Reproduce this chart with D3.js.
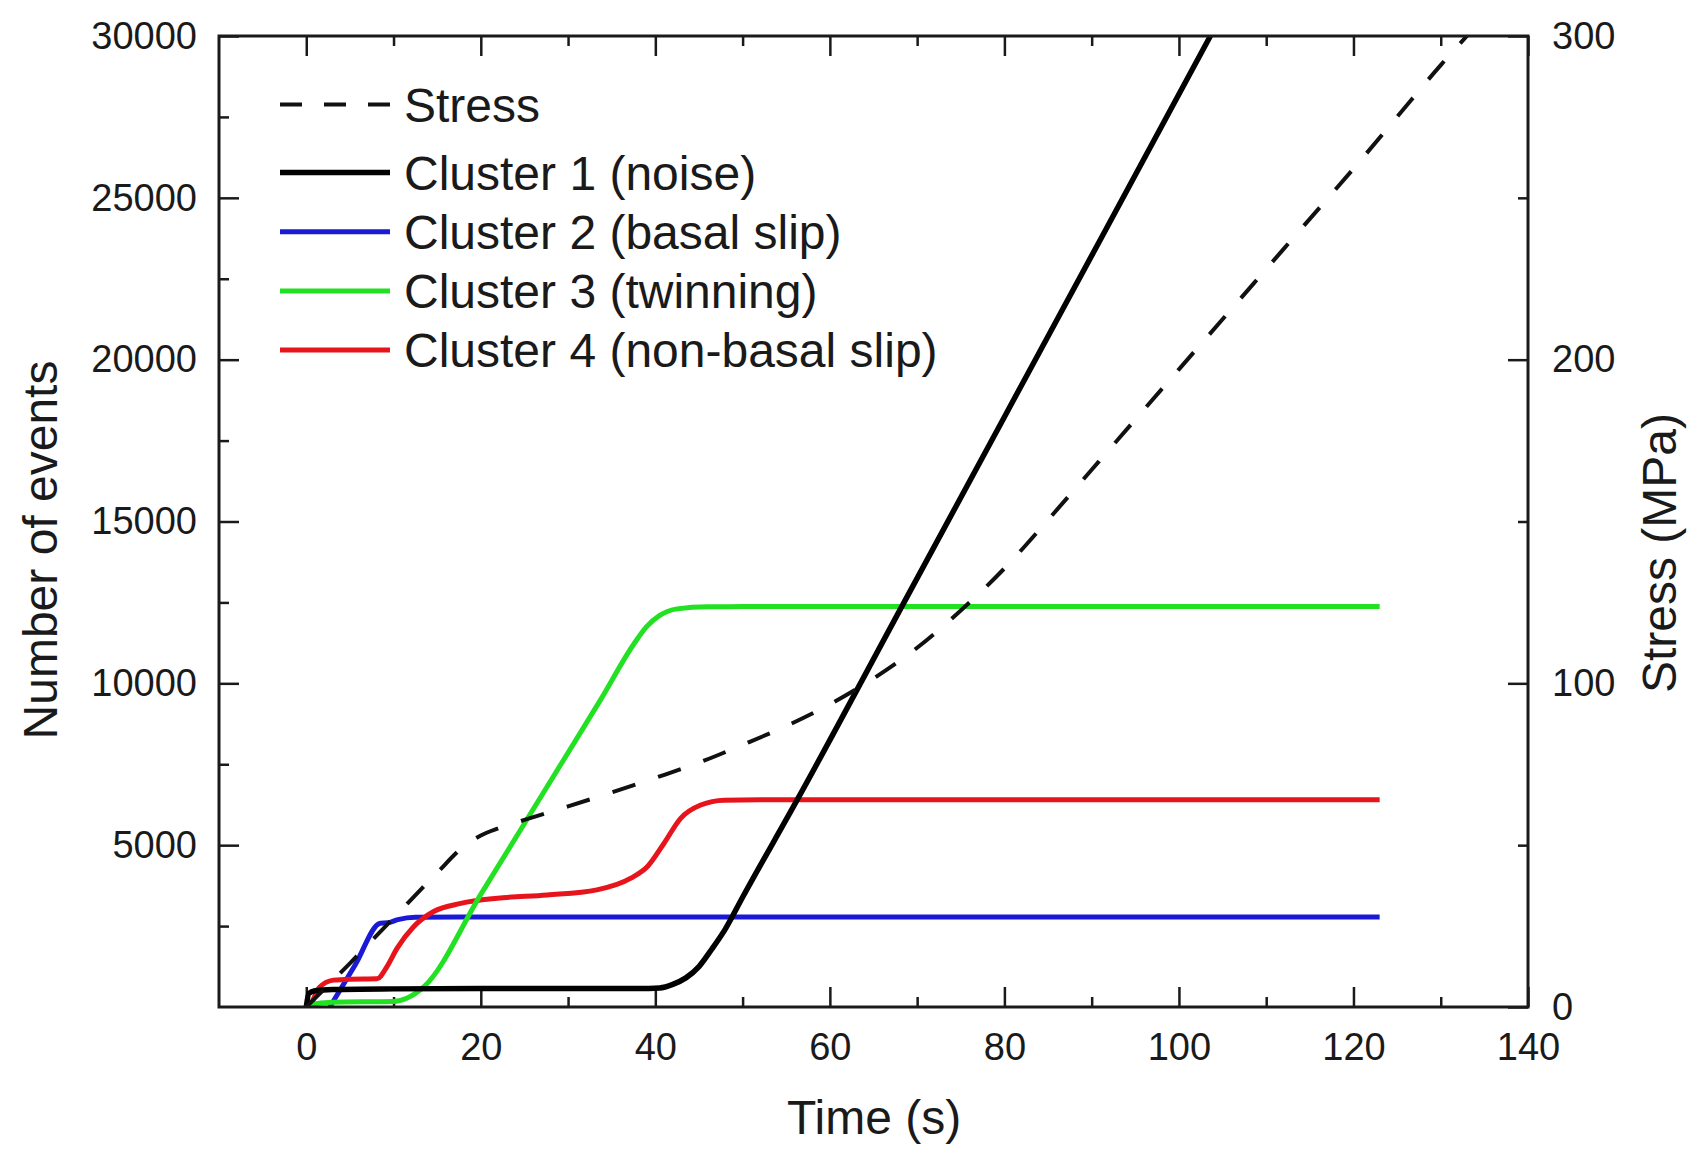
<!DOCTYPE html>
<html>
<head>
<meta charset="utf-8">
<script src="https://cdn.jsdelivr.net/npm/d3@7"></script>
<style>
  body { margin: 0; background: #fff; }
  text { font-family: "Liberation Sans", Arial, Helvetica, sans-serif; fill: #1a1a1a; }
</style>
</head>
<body>
<svg id="chart"></svg>
<script>
/* global d3 */

// values: [time (s), value]
const stress = [[0, 0], [5, 13.5], [10, 27.5], [15, 41.5], [18, 49.5], [20, 53], [22, 55.2],
  [25, 57.8], [30, 62], [35, 66.3], [40, 70.8], [45, 75.5], [50, 81], [55, 86.8], [60, 93.5],
  [65, 101.5], [70, 111], [75, 122.5], [80, 135.5], [85, 150.5], [90, 166], [95, 181.5],
  [100, 197], [105, 212.5], [110, 228], [115, 243.5], [120, 259], [125, 275], [130, 291],
  [133, 300]];

const cluster1 = [[0, 0], [0.3, 420], [1, 500], [3, 540], [10, 560], [20, 570], [30, 570], [38, 570],
  [40.5, 590], [42, 700], [43.5, 900], [45, 1250], [46.5, 1800], [48, 2400], [50, 3390],
  [56.3, 6420], [68.3, 12400], [80, 18230], [91.1, 23760], [103.6, 30000]];

const cluster2 = [[2.7, 0], [5.6, 1300], [8.5, 2590], [9.3, 2600], [10.5, 2700], [12.5, 2770],
  [20, 2780], [60, 2780], [123, 2780]];

const cluster3 = [[0, 0], [0.5, 80], [3, 150], [10, 170], [11.5, 270], [13.5, 630], [20, 3480],
  [29.5, 7640], [33.7, 9480], [37.5, 11200], [39, 11750], [40.5, 12100], [42.5, 12300],
  [46, 12365], [50, 12370], [123, 12370]];

const cluster4 = [[0, 0], [0.5, 100], [1.5, 600], [3.1, 830], [5, 860], [8.1, 870], [9.25, 1250],
  [10.4, 1810], [12.3, 2480], [14.6, 2950], [17.7, 3200], [21.9, 3360], [27.6, 3460], [33.3, 3620],
  [37.2, 3980], [39.1, 4340], [41, 5060], [42.9, 5830], [45.2, 6240], [47.9, 6390], [52, 6400],
  [123, 6400]];

const legendLabels = ["Stress", "Cluster 1 (noise)", "Cluster 2 (basal slip)",
  "Cluster 3 (twinning)", "Cluster 4 (non-basal slip)"];

const xTicks = [0, 20, 40, 60, 80, 100, 120, 140];
const xMinor = [10, 30, 50, 70, 90, 110, 130];
const yTicks = [5000, 10000, 15000, 20000, 25000, 30000];
const yMinor = [2500, 7500, 12500, 17500, 22500, 27500];
const y2Ticks = [0, 100, 200, 300];
const y2Minor = [50, 150, 250];

// dimensions
const WIDTH = 1690;
const HEIGHT = 1151;
const LEFT = 219;
const RIGHT = 1528;
const TOP = 36;
const BOTTOM = 1007;
const MAJOR = 20;
const MINOR = 10;

const x = d3.scaleLinear().domain([-10, 140]).range([LEFT, RIGHT]);
const y = d3.scaleLinear().domain([0, 30000]).range([BOTTOM, TOP]);
const y2 = d3.scaleLinear().domain([0, 300]).range([BOTTOM, TOP]);
const fmt = d3.format("d");

const $svg = d3.select("#chart").attr("width", WIDTH).attr("height", HEIGHT);

$svg.append("defs").append("clipPath").attr("id", "plot")
  .append("rect")
  .attr("x", LEFT).attr("y", TOP)
  .attr("width", RIGHT - LEFT).attr("height", BOTTOM - TOP);

// axes, ticks point inward
function drawAxis(axis, transform, labels) {
  const $g = $svg.append("g").attr("transform", transform).call(axis.tickFormat(fmt));
  $g.select(".domain").remove();
  $g.selectAll(".tick line").attr("stroke", "#1a1a1a").attr("stroke-width", 2.5);
  $g.selectAll(".tick text").style("font-size", "38px").attr("fill", "#1a1a1a");
  if (!labels) $g.selectAll(".tick text").remove();
  return $g;
}

drawAxis(d3.axisBottom(x).tickValues(xTicks).tickSize(-MAJOR).tickPadding(26).tickSizeOuter(0),
  `translate(0,${BOTTOM})`, true);
drawAxis(d3.axisBottom(x).tickValues(xMinor).tickSize(-MINOR).tickSizeOuter(0),
  `translate(0,${BOTTOM})`, false);
drawAxis(d3.axisTop(x).tickValues(xTicks).tickSize(-MAJOR).tickSizeOuter(0),
  `translate(0,${TOP})`, false);
drawAxis(d3.axisTop(x).tickValues(xMinor).tickSize(-MINOR).tickSizeOuter(0),
  `translate(0,${TOP})`, false);

drawAxis(d3.axisLeft(y).tickValues(yTicks).tickSize(-MAJOR).tickPadding(22).tickSizeOuter(0),
  `translate(${LEFT},0)`, true);
drawAxis(d3.axisLeft(y).tickValues(yMinor).tickSize(-MINOR).tickSizeOuter(0),
  `translate(${LEFT},0)`, false);

drawAxis(d3.axisRight(y2).tickValues(y2Ticks).tickSize(-MAJOR).tickPadding(24).tickSizeOuter(0),
  `translate(${RIGHT},0)`, true);
drawAxis(d3.axisRight(y2).tickValues(y2Minor).tickSize(-MINOR).tickSizeOuter(0),
  `translate(${RIGHT},0)`, false);

// series
const series = [
  { data: cluster2, scale: y, color: "#1a1ad6", dash: null, width: 5, legend: 2 },
  { data: cluster4, scale: y, color: "#e8141c", dash: null, width: 5, legend: 4 },
  { data: cluster3, scale: y, color: "#22e022", dash: null, width: 5, legend: 3 },
  { data: cluster1, scale: y, color: "#000000", dash: null, width: 5.5, legend: 1 },
  { data: stress, scale: y2, color: "#111111", dash: "24,24", width: 4, legend: 0 }
];

const $lines = $svg.append("g").attr("clip-path", "url(#plot)");

series.forEach(s => {
  const line = d3.line()
    .x(d => x(d[0]))
    .y(d => s.scale(d[1]))
    .curve(d3.curveMonotoneX);
  $lines.append("path")
    .datum(s.data)
    .attr("d", line)
    .attr("fill", "none")
    .attr("stroke", s.color)
    .attr("stroke-width", s.width)
    .attr("stroke-dasharray", s.dash)
    .attr("stroke-linejoin", "round");
});

// frame
$svg.append("rect")
  .attr("x", LEFT).attr("y", TOP)
  .attr("width", RIGHT - LEFT).attr("height", BOTTOM - TOP)
  .attr("fill", "none")
  .attr("stroke", "#1a1a1a")
  .attr("stroke-width", 3);

// legend
const legendY = [104.5, 172.5, 231.7, 291, 350];
const $legend = $svg.append("g");
series.slice().sort((a, b) => a.legend - b.legend).forEach((s, i) => {
  const $row = $legend.append("g").attr("transform", `translate(0,${legendY[i]})`);
  $row.append("line")
    .attr("x1", 280).attr("x2", 390)
    .attr("stroke", s.color)
    .attr("stroke-width", s.width)
    .attr("stroke-dasharray", s.dash ? "22,22" : null);
  $row.append("text")
    .attr("x", 404)
    .attr("y", 17)
    .style("font-size", "48px")
    .text(legendLabels[i]);
});

// axis titles
$svg.append("text")
  .attr("x", (x(0) + x(140)) / 2 - 43)
  .attr("y", 1134)
  .attr("text-anchor", "middle")
  .style("font-size", "48px")
  .text("Time (s)");

$svg.append("text")
  .attr("transform", "translate(57,550) rotate(-90)")
  .attr("text-anchor", "middle")
  .style("font-size", "48px")
  .text("Number of events");

$svg.append("text")
  .attr("transform", "translate(1676,553) rotate(-90)")
  .attr("text-anchor", "middle")
  .style("font-size", "48px")
  .text("Stress (MPa)");
</script>
</body>
</html>
